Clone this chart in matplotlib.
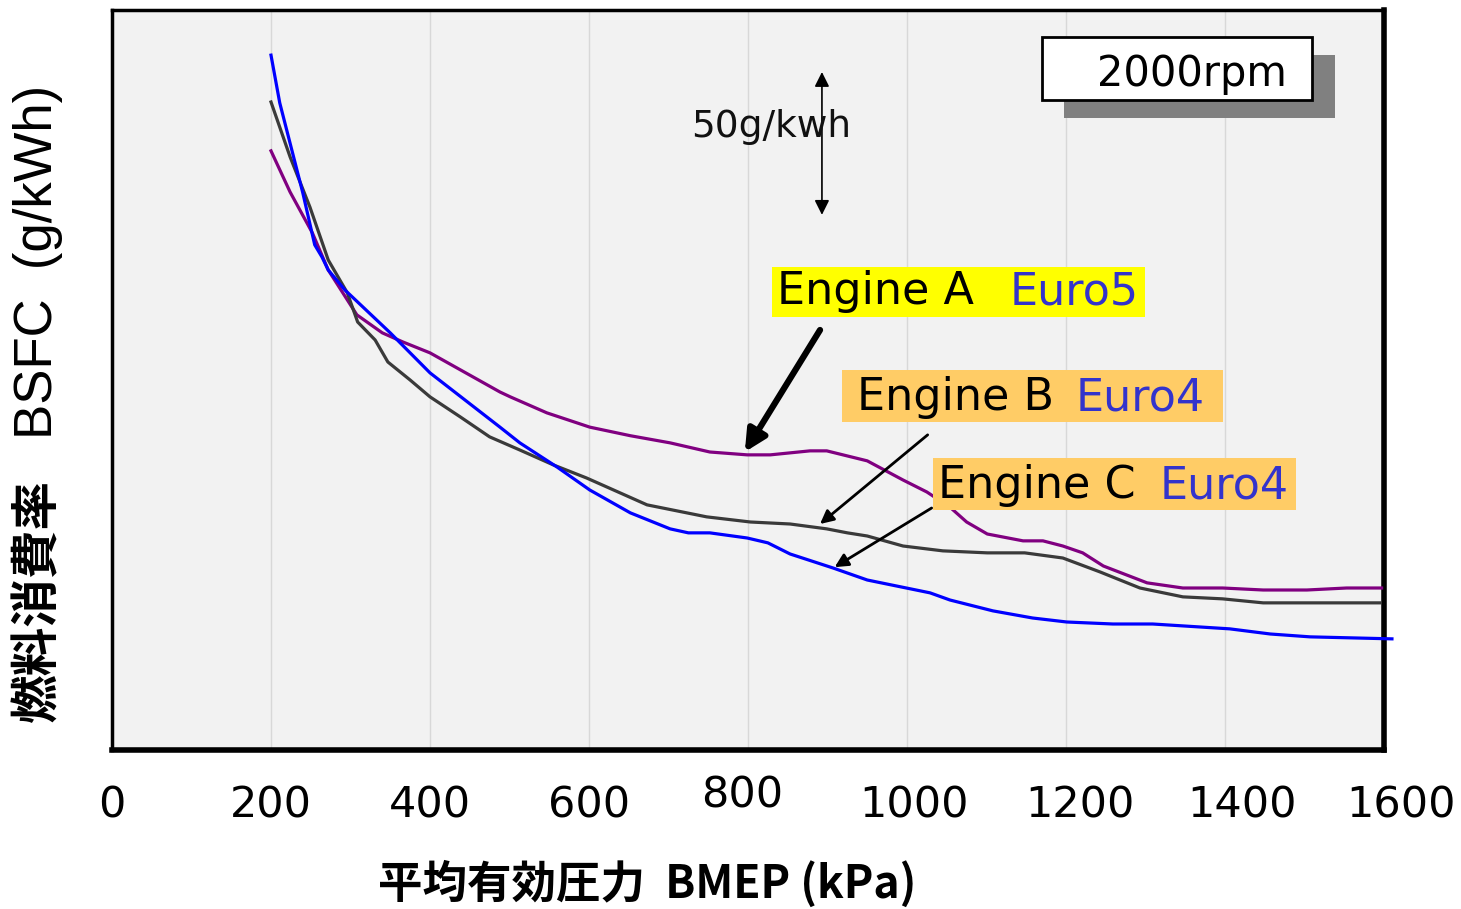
import matplotlib
matplotlib.use("Agg")
import matplotlib.pyplot as plt
from matplotlib.patches import Rectangle
from matplotlib.transforms import ScaledTranslation

# ---- data (BMEP kPa, BSFC g/kWh) ----
engine_a_x = [200, 224, 252, 272, 308, 340, 366, 400, 488, 501, 547, 601, 652, 702, 752, 799, 828, 878,
              899, 950, 995, 1025, 1054, 1075, 1101, 1146, 1171, 1196, 1221, 1247, 1302, 1347, 1397, 1448,
              1503, 1553, 1597]
engine_a_y = [389.7, 375.3, 361.0, 348.0, 332.3, 326.0, 322.8, 319.0, 305.3, 303.6, 298.0, 293.0, 290.0,
              287.5, 284.3, 283.3, 283.3, 284.7, 284.7, 281.2, 274.5, 270.3, 265.0, 259.8, 255.6, 253.2,
              253.2, 251.4, 249.0, 244.4, 238.5, 236.7, 236.7, 236.0, 236.0, 236.7, 236.7]

engine_b_x = [200, 224, 249, 272, 296, 309, 331, 347, 375, 400, 438, 475, 513, 555, 597, 673, 748, 803,
              853, 899, 925, 950, 995, 1045, 1101, 1148, 1196, 1243, 1293, 1347, 1397, 1448, 1595]
engine_b_y = [406.8, 387.6, 370.0, 351.5, 340.0, 329.8, 323.5, 315.8, 309.5, 303.6, 296.6, 289.6, 285.0,
              279.8, 275.2, 265.8, 261.6, 259.8, 259.1, 257.4, 256.0, 254.9, 251.4, 249.7, 249.0, 249.0,
              247.2, 242.3, 236.7, 233.6, 232.9, 231.5, 231.5]

engine_c_x = [200, 211, 240, 247, 255, 264, 272, 293, 350, 400, 488, 513, 560, 601, 652, 702, 725, 752,
              799, 825, 853, 907, 950, 1029, 1054, 1108, 1158, 1201, 1259, 1309, 1406, 1457, 1507, 1610]
engine_c_y = [423.2, 406.5, 375.0, 366.5, 356.8, 352.6, 348.0, 341.0, 326.0, 312.0, 293.0, 287.5, 279.0,
              271.0, 263.0, 257.4, 256.0, 256.0, 254.2, 252.5, 248.6, 243.7, 239.5, 235.0, 232.5, 228.7,
              226.2, 224.8, 224.1, 224.1, 222.4, 220.6, 219.6, 218.9]

x_ticks = [0, 200, 400, 600, 800, 1000, 1200, 1400, 1600]
x_ticklabels = ["0", "200", "400", "600", "800", "1000", "1200", "1400", "1600"]

scale_bottom, scale_top = 367.3, 417.3   # 50 g/kWh reference arrow
scale_x = 893

fig = plt.figure(figsize=(14.61, 9.09), dpi=100)
ax = fig.add_axes([112 / 1461, 1 - 750 / 909, 1272 / 1461, 740 / 909])
ax.set_facecolor("#f2f2f2")
ax.set_xlim(0, 1600)
ax.set_ylim(180, 439)

ax.plot(engine_a_x, engine_a_y, color="#800080", lw=2.3, zorder=3)
ax.plot(engine_b_x, engine_b_y, color="#3a3a3a", lw=2.3, zorder=3)
ax.plot(engine_c_x, engine_c_y, color="#0000ff", lw=2.3, zorder=3, clip_on=False)

ax.set_xticks(x_ticks)
ax.set_xticklabels(x_ticklabels, fontsize=31, family="DejaVu Sans")
ax.set_yticks([])
ax.tick_params(axis="x", length=0, pad=25)
ax.grid(axis="x", color="#d8d8d8", lw=1.0, zorder=0)
ax.set_axisbelow(True)
shifts = {"800": (-4, 7), "1000": (5, 0), "1200": (10, 0), "1400": (12, 0), "1600": (12, 0)}
for lbl in ax.get_xticklabels():
    t = lbl.get_text()
    if t in shifts:
        dx, dy = shifts[t]
        lbl.set_transform(lbl.get_transform() + ScaledTranslation(dx / 72, dy / 72, fig.dpi_scale_trans))

for side, w in [("top", 2.5), ("left", 2.5), ("bottom", 4.0), ("right", 4.0)]:
    ax.spines[side].set_linewidth(w)
    ax.spines[side].set_color("black")

# axis labels
ax.set_xlabel("平均有効圧力  BMEP (kPa)", fontsize=32, fontweight="bold",
              family=["Noto Sans CJK JP", "DejaVu Sans"])
ax.xaxis.set_label_coords(0.421, -0.15)

fig.text(38 / 1461, 1 - 600 / 909, "燃料消費率", rotation=90, ha="center", va="center",
         fontsize=35, fontweight="bold", family=["Noto Sans CJK JP"])
fig.text(38 / 1461, 1 - 262 / 909, "BSFC  (g/kWh)", rotation=90, ha="center", va="center",
         fontsize=38, family=["Liberation Sans"])

# 50 g/kWh scale arrow
ax.annotate("", xy=(scale_x, scale_bottom), xytext=(scale_x, scale_top),
            arrowprops=dict(arrowstyle="<|-|>", color="black", lw=1.2, mutation_scale=22,
                            shrinkA=0, shrinkB=0))
ax.text((771 - 112) / 1272, (750 - 127) / 740, "50g/kwh", transform=ax.transAxes, ha="center",
        va="center", fontsize=27, color="#111111")

# 2000rpm box with shadow
ax.add_patch(Rectangle((0.7484, 0.854), 0.2131, 0.085, transform=ax.transAxes,
                       facecolor="#808080", edgecolor="none", zorder=5))
ax.add_patch(Rectangle((0.7311, 0.8784), 0.2123, 0.0851, transform=ax.transAxes,
                       facecolor="white", edgecolor="black", lw=2, zorder=6))
ax.text((1192 - 112) / 1272, 0.913, "2000rpm", transform=ax.transAxes, ha="center", va="center",
        fontsize=30, color="black", zorder=7)

# engine labels
labels = [
    ("Engine A", "Euro5", "#ffff00", (0.5189, 0.5851, 0.2932, 0.0676), 0.5228, 0.706, 0.619),
    ("Engine B", "Euro4", "#ffcc66", (0.5739, 0.4432, 0.2995, 0.0703), 0.5857, 0.7579, 0.476),
    ("Engine C", "Euro4", "#ffcc66", (0.6454, 0.3243, 0.2854, 0.0703), 0.6494, 0.8239, 0.357),
]
for name, euro, bg, (rx, ry, rw, rh), tx1, tx2, ty in labels:
    ax.add_patch(Rectangle((rx, ry), rw, rh, transform=ax.transAxes, facecolor=bg,
                           edgecolor="none", zorder=4))
    ax.text(tx1, ty, name, transform=ax.transAxes, ha="left", va="center", fontsize=32,
            color="black", zorder=6)
    ax.text(tx2, ty, euro, transform=ax.transAxes, ha="left", va="center", fontsize=32,
            color="#3333cc", zorder=6)

# pointer arrows
ax.annotate("", xy=(796, 284.3), xytext=(890.6, 327),
            arrowprops=dict(arrowstyle="-|>", color="black", lw=4.5, mutation_scale=32,
                            shrinkA=0, shrinkB=0), zorder=6)
ax.annotate("", xy=(890.6, 259.1), xytext=(1026, 290.3),
            arrowprops=dict(arrowstyle="-|>", color="black", lw=2.0, mutation_scale=20,
                            shrinkA=0, shrinkB=0), zorder=6)
ax.annotate("", xy=(909, 244), xytext=(1031, 264.7),
            arrowprops=dict(arrowstyle="-|>", color="black", lw=2.0, mutation_scale=20,
                            shrinkA=0, shrinkB=0), zorder=6)

fig.savefig("out.png", dpi=100, facecolor="white")
